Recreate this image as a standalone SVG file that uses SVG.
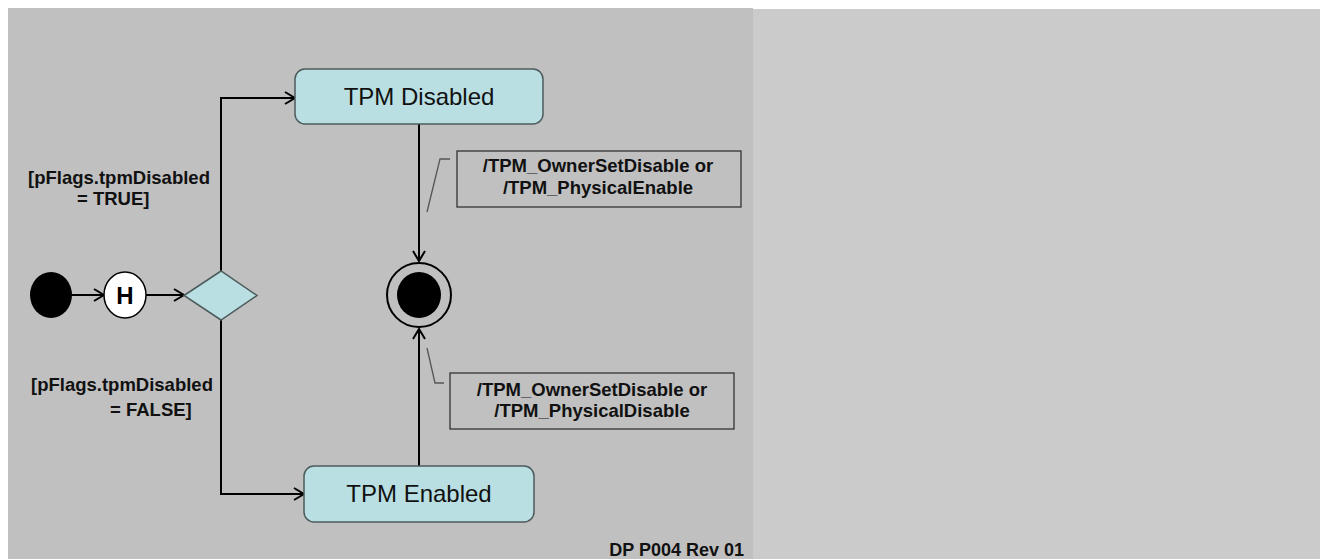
<svg xmlns="http://www.w3.org/2000/svg" width="1327" height="559" viewBox="0 0 1327 559">
  <style>
    .state { fill: #b9dfe3; stroke: #4d5b5c; stroke-width: 1.5; }
    .state-label { font-family: "Liberation Sans", Arial, sans-serif; font-size: 24px; fill: #111; text-anchor: middle; }
    .guard { font-family: "Liberation Sans", Arial, sans-serif; font-size: 18.5px; font-weight: bold; fill: #111; }
    .note { fill: none; stroke: #333; stroke-width: 1.3; }
    .note-text { font-family: "Liberation Sans", Arial, sans-serif; font-size: 18.5px; font-weight: bold; fill: #111; text-anchor: middle; }
    .edge { fill: none; stroke: #000; stroke-width: 2; }
    .anchor { fill: none; stroke: #555; stroke-width: 1.3; }
  </style>
  <defs>
    <marker id="open-arrow" markerUnits="userSpaceOnUse" markerWidth="14" markerHeight="16" refX="11" refY="7" orient="auto">
      <path d="M1,1 L11,7 L1,13" fill="none" stroke="#000" stroke-width="2"/>
    </marker>
  </defs>

  <!-- background panels -->
  <rect x="0" y="0" width="1327" height="559" fill="#ffffff"/>
  <rect x="8" y="8" width="745" height="551" fill="#c0c0c0"/>
  <rect x="753" y="9" width="567" height="550" fill="#cbcbcb"/>

  <!-- connectors -->
  <g id="connectors">
    <path class="edge" d="M72,295 L104,295" marker-end="url(#open-arrow)"/>
    <path class="edge" d="M146,295 L184,295" marker-end="url(#open-arrow)"/>
    <path class="edge" d="M221,271 L221,98 L295,98" marker-end="url(#open-arrow)"/>
    <path class="edge" d="M221,320 L221,494 L304,494" marker-end="url(#open-arrow)"/>
    <path class="edge" d="M419,124 L419,261" marker-end="url(#open-arrow)"/>
    <path class="edge" d="M419,466 L419,329" marker-end="url(#open-arrow)"/>
  </g>

  <!-- initial pseudo-state -->
  <g id="initial">
    <ellipse cx="51" cy="295" rx="21" ry="23" fill="#000"/>
  </g>

  <!-- history pseudo-state -->
  <g id="history">
    <ellipse cx="125" cy="295" rx="21" ry="23" fill="#fff" stroke="#000" stroke-width="1.5"/>
    <text x="125" y="304" font-family="Liberation Sans, Arial, sans-serif" font-size="24" font-weight="bold" text-anchor="middle" fill="#000">H</text>
  </g>

  <!-- choice -->
  <g id="choice">
    <polygon class="state" points="184,295.5 221,271 257,295.5 221,320"/>
  </g>

  <!-- guard labels -->
  <g id="guard-true">
    <text class="guard" x="28" y="184">[pFlags.tpmDisabled</text>
    <text class="guard" x="77" y="205">= TRUE]</text>
  </g>
  <g id="guard-false">
    <text class="guard" x="31" y="391">[pFlags.tpmDisabled</text>
    <text class="guard" x="110" y="416">= FALSE]</text>
  </g>

  <!-- states -->
  <g id="tpm-disabled">
    <rect class="state" x="295" y="69" width="248" height="55" rx="10"/>
    <text class="state-label" x="419" y="105">TPM Disabled</text>
  </g>
  <g id="tpm-enabled">
    <rect class="state" x="304" y="466" width="230" height="56" rx="10"/>
    <text class="state-label" x="419" y="502">TPM Enabled</text>
  </g>

  <!-- final state -->
  <g id="final">
    <circle cx="419" cy="295" r="32" fill="none" stroke="#000" stroke-width="2"/>
    <ellipse cx="419" cy="295" rx="22" ry="23" fill="#000"/>
  </g>

  <!-- transition notes -->
  <g id="note-disable-exit">
    <path class="anchor" d="M427,212 L440,159 L450,159"/>
    <rect class="note" x="457" y="151" width="284" height="56"/>
    <text class="note-text" x="598" y="172">/TPM_OwnerSetDisable or</text>
    <text class="note-text" x="598" y="194">/TPM_PhysicalEnable</text>
  </g>
  <g id="note-enable-exit">
    <path class="anchor" d="M427,348 L435,383 L444,383"/>
    <rect class="note" x="450" y="373" width="284" height="56"/>
    <text class="note-text" x="592" y="396">/TPM_OwnerSetDisable or</text>
    <text class="note-text" x="592" y="417">/TPM_PhysicalDisable</text>
  </g>

  <!-- document tag -->
  <text x="744" y="556" font-family="Liberation Sans, Arial, sans-serif" font-size="18" font-weight="bold" text-anchor="end" fill="#111">DP P004 Rev 01</text>
</svg>
